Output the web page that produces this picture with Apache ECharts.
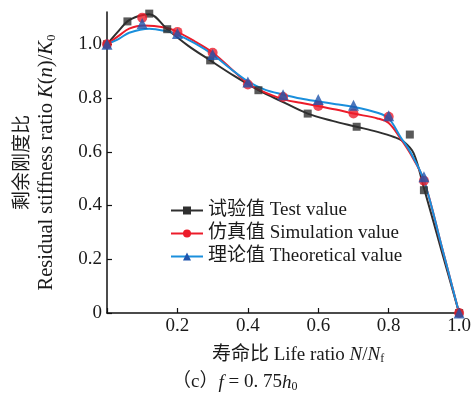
<!DOCTYPE html>
<html>
<head>
<meta charset="utf-8">
<script src="https://cdn.jsdelivr.net/npm/echarts@6/dist/echarts.min.js"></script>
<style>html,body{margin:0;padding:0;background:#fff}#c{width:474px;height:403px}</style>
</head>
<body>
<div id="c"></div>
<script>
// ---- data ----
var seriesNames = ['试验值 Test value', '仿真值 Simulation value', '理论值 Theoretical value'];
var xTicks = [0, 0.2, 0.4, 0.6, 0.8, 1.0];
var yTicks = [0, 0.2, 0.4, 0.6, 0.8, 1.0];

// markers
var testX = [0, 0.058, 0.12, 0.171, 0.293, 0.43, 0.57, 0.709, 0.86, 0.90, 1.0];
var testY = [1.0, 1.085, 1.114, 1.056, 0.94, 0.829, 0.742, 0.693, 0.664, 0.457, 0];
var simX = [0, 0.1, 0.2, 0.3, 0.4, 0.5, 0.6, 0.7, 0.8, 0.9, 1.0];
var simY = [1.0, 1.099, 1.046, 0.968, 0.85, 0.804, 0.77, 0.742, 0.73, 0.492, 0];
var theoX = [0, 0.1, 0.2, 0.3, 0.4, 0.5, 0.6, 0.7, 0.8, 0.9, 1.0];
var theoY = [1.0, 1.077, 1.04, 0.962, 0.86, 0.812, 0.794, 0.773, 0.734, 0.507, 0];

// fitted curves
var testCurveX = [0, 0.03, 0.058, 0.09, 0.12, 0.171, 0.23, 0.293, 0.36, 0.43, 0.50, 0.57, 0.64, 0.709, 0.768, 0.815, 0.843, 0.871, 0.9, 0.95, 1.0];
var testCurveY = [1.0, 1.045, 1.085, 1.105, 1.112, 1.056, 0.995, 0.94, 0.883, 0.829, 0.785, 0.742, 0.715, 0.693, 0.674, 0.655, 0.637, 0.594, 0.465, 0.232, 0];
var simCurveX = [0, 0.035, 0.063, 0.105, 0.167, 0.2, 0.25, 0.298, 0.35, 0.4, 0.45, 0.505, 0.55, 0.6, 0.65, 0.7, 0.768, 0.8, 0.833, 0.861, 0.9, 0.95, 1.0];
var simCurveY = [1.0, 1.033, 1.058, 1.07, 1.061, 1.046, 1.01, 0.971, 0.912, 0.854, 0.82, 0.794, 0.782, 0.77, 0.757, 0.742, 0.724, 0.707, 0.65, 0.594, 0.494, 0.25, 0];
var theoCurveX = [0, 0.035, 0.063, 0.12, 0.167, 0.2, 0.25, 0.3, 0.35, 0.4, 0.45, 0.5, 0.55, 0.6, 0.65, 0.7, 0.768, 0.8, 0.833, 0.861, 0.9, 0.95, 1.0];
var theoCurveY = [1.0, 1.021, 1.043, 1.058, 1.049, 1.036, 1.003, 0.962, 0.91, 0.862, 0.83, 0.813, 0.798, 0.787, 0.777, 0.767, 0.745, 0.724, 0.656, 0.6, 0.494, 0.25, 0];

function zip(xs, ys) { return xs.map(function (x, i) { return [x, ys[i]]; }); }

var FONT = '"Liberation Serif", "Times New Roman", "Noto Sans CJK SC", serif';
var colors = { test: '#2f2f2f', sim: '#ec1c2a', simLine: '#ec1c2a', theoLine: '#1a8fdc', theo: '#1f55ad' };

var chart = echarts.init(document.getElementById('c'), null, { renderer: 'canvas' });

function lineSeries(name, data, color, symbol, symColor) {
  return {
    type: 'line', name: name, data: data, smooth: 0.35,
    symbol: symbol, symbolSize: 9, showSymbol: false,
    lineStyle: { color: color, width: 2 },
    itemStyle: { color: symColor },
    z: 2
  };
}
function markSeries(name, data, color, symbol, size) {
  return {
    type: 'scatter', name: name, data: data, symbol: symbol, symbolSize: size,
    itemStyle: { color: color }, z: 3
  };
}

chart.setOption({
  animation: false,
  textStyle: { fontFamily: FONT },
  grid: { left: 107, right: 12, top: 12, bottom: 90, containLabel: false },
  legend: {
    data: seriesNames,
    left: 165, top: 196, orient: 'vertical',
    itemWidth: 32, itemHeight: 10, itemGap: 4,
    textStyle: { fontFamily: FONT, fontSize: 19, color: '#1a1a1a' }
  },
  xAxis: {
    type: 'value', min: 0, max: 1, interval: 0.2,
    axisLine: { lineStyle: { color: '#111', width: 1.5 } },
    axisTick: { inside: true, length: 5, lineStyle: { color: '#111', width: 1.2 } },
    splitLine: { show: false },
    axisLabel: {
      fontFamily: FONT, fontSize: 19, color: '#1a1a1a', margin: 4,
      formatter: function (v) { return v === 0 ? '' : v.toFixed(1); }
    },
    name: '寿命比 Life ratio {i|N}/{i|N}{sub|f}',
    nameLocation: 'middle', nameGap: 32,
    nameTextStyle: {
      fontFamily: FONT, fontSize: 19, color: '#1a1a1a', padding: [0, 0, 0, 30],
      rich: {
        i: { fontFamily: FONT, fontSize: 19, fontStyle: 'italic', color: '#1a1a1a' },
        sub: { fontFamily: FONT, fontSize: 12, color: '#1a1a1a', verticalAlign: 'bottom', padding: [8, 0, 0, 0] }
      }
    }
  },
  yAxis: {
    type: 'value', min: 0, max: 1.12, interval: 0.2,
    axisLine: { show: true, lineStyle: { color: '#111', width: 1.5 } },
    axisTick: { show: true, inside: true, length: 5, customValues: yTicks, lineStyle: { color: '#111', width: 1.2 } },
    splitLine: { show: false },
    axisLabel: {
      fontFamily: FONT, fontSize: 19, color: '#1a1a1a', margin: 5, customValues: yTicks,
      formatter: function (v) { return v === 0 ? '0' : v.toFixed(1); }
    },
    name: '{c|剩余刚度比}\n{e|Residual stiffness ratio }{i|K}{e|(}{i|n}{e|)/}{i|K}{sub|0}',
    nameLocation: 'middle', nameRotate: 90, nameGap: 49,
    nameTextStyle: {
      fontFamily: FONT, fontSize: 20, color: '#1a1a1a', lineHeight: 23,
      padding: [0, 0, 0, 0],
      rich: {
        c: { fontFamily: FONT, fontSize: 19, color: '#1a1a1a', lineHeight: 23 },
        e: { fontFamily: FONT, fontSize: 20.5, color: '#1a1a1a', lineHeight: 23 },
        i: { fontFamily: FONT, fontSize: 20.5, fontStyle: 'italic', color: '#1a1a1a', lineHeight: 23 },
        sub: { fontFamily: FONT, fontSize: 13, color: '#1a1a1a', lineHeight: 23, verticalAlign: 'bottom', padding: [8, 0, 0, 0] }
      }
    }
  },
  graphic: [{
    type: 'text', left: 172, top: 373,
    style: {
      text: '（c）{i|f} = 0. 75{i|h}{sub|0}',
      fontFamily: FONT, fontSize: 19, fill: '#1a1a1a',
      rich: {
        i: { fontFamily: FONT, fontSize: 19, fontStyle: 'italic', fill: '#1a1a1a' },
        sub: { fontFamily: FONT, fontSize: 12, fill: '#1a1a1a', padding: [8, 0, 0, 0] }
      }
    }
  }],
  series: [
    lineSeries(seriesNames[0], zip(testCurveX, testCurveY), colors.test, 'rect', colors.test),
    lineSeries(seriesNames[1], zip(simCurveX, simCurveY), colors.simLine, 'circle', colors.sim),
    lineSeries(seriesNames[2], zip(theoCurveX, theoCurveY), colors.theoLine, 'triangle', colors.theo),
    markSeries(seriesNames[0], zip(testX, testY), colors.test, 'rect', 8),
    markSeries(seriesNames[1], zip(simX, simY), colors.sim, 'circle', 10),
    markSeries(seriesNames[2], zip(theoX, theoY), colors.theo, 'triangle', 11)
  ]
});
</script>
</body>
</html>
